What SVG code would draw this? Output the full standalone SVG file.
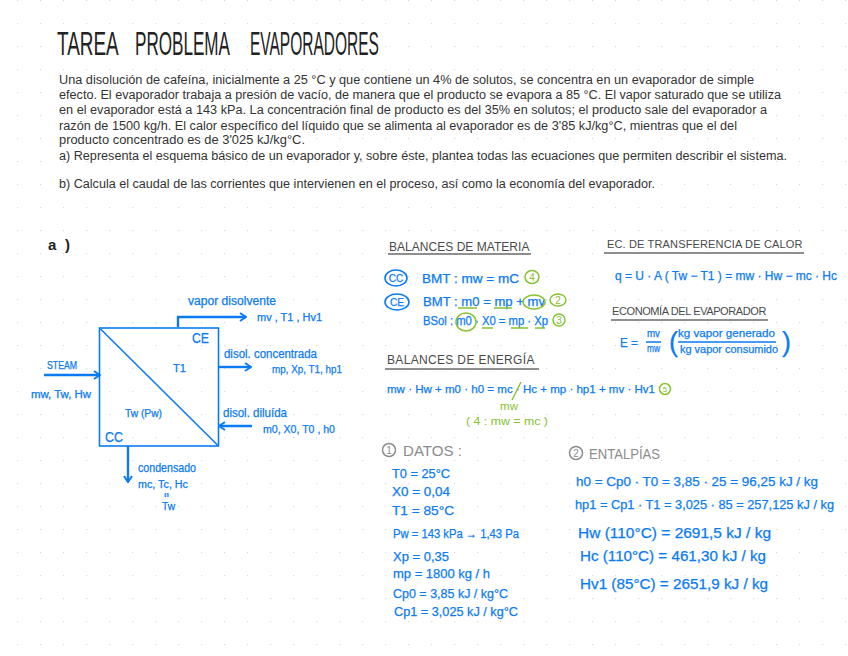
<svg xmlns="http://www.w3.org/2000/svg" width="848" height="656" viewBox="0 0 848 656">
<style>
text{font-family:"Liberation Sans",Arial,sans-serif}
.body{font-size:12px;fill:#333}
.title{font-size:34px;fill:#222}
.blue{fill:#0b7bf5;stroke:#0b7bf5;stroke-width:.25}
.f10{font-size:10px}.f11{font-size:11px}.f12{font-size:12px}.f13{font-size:13px}.f14{font-size:14px}
.head{font-size:12px;fill:#4a4a4a;letter-spacing:.6px}
.grey{font-size:15px;fill:#8c8c8c}
.green{fill:#86c232}
.gs{fill:none;stroke:#86c232;stroke-width:1.5}
.bs{fill:none;stroke:#0b7bf5;stroke-width:1.6}
.line{fill:none;stroke:#0b7bf5;stroke-width:2.4}
.ul{stroke:#6a6a6a;stroke-width:1.6}
.gu{stroke:#86c232;stroke-width:1.4}
.gc{fill:none;stroke:#8c8c8c;stroke-width:1.5}
</style>
<defs>
<pattern id="dots" x="17" y="0" width="23" height="23" patternUnits="userSpaceOnUse"><circle cx="0.6" cy="0.6" r="0.7" fill="#d9d9d9"/></pattern>
<marker id="arrow" viewBox="0 0 8 10" refX="7" refY="5" markerWidth="8" markerHeight="10" markerUnits="userSpaceOnUse" orient="auto"><path d="M1 1L7 5L1 9" fill="none" stroke="#0b7bf5" stroke-width="2"/></marker>
</defs>
<rect width="848" height="656" fill="#fff"/>
<rect width="848" height="656" fill="url(#dots)"/>

<g id="statement">
<text class="title" transform="translate(57 55) scale(.557 1)">TAREA</text>
<text class="title" transform="translate(135 55) scale(.503 1)">PROBLEMA</text>
<text class="title" transform="translate(250 55) scale(.456 1)">EVAPORADORES</text>
<text class="body" x="59" y="84" textLength="695" lengthAdjust="spacingAndGlyphs">Una disolución de cafeína, inicialmente a 25 °C y que contiene un 4% de solutos, se concentra en un evaporador de simple</text>
<text class="body" x="59" y="99" textLength="722" lengthAdjust="spacingAndGlyphs">efecto. El evaporador trabaja a presión de vacío, de manera que el producto se evapora a 85 °C. El vapor saturado que se utiliza</text>
<text class="body" x="59" y="114" textLength="708" lengthAdjust="spacingAndGlyphs">en el evaporador está a 143 kPa. La concentración final de producto es del 35% en solutos; el producto sale del evaporador a</text>
<text class="body" x="59" y="130" textLength="678" lengthAdjust="spacingAndGlyphs">razón de 1500 kg/h. El calor específico del líquido que se alimenta al evaporador es de 3'85 kJ/kg°C, mientras que el del</text>
<text class="body" x="59" y="144" textLength="246" lengthAdjust="spacingAndGlyphs">producto concentrado es de 3'025 kJ/kg°C.</text>
<text class="body" x="59" y="160" textLength="728" lengthAdjust="spacingAndGlyphs">a) Representa el esquema básico de un evaporador y, sobre éste, plantea todas las ecuaciones que permiten describir el sistema.</text>
<text class="body" x="59" y="188" textLength="596" lengthAdjust="spacingAndGlyphs">b) Calcula el caudal de las corrientes que intervienen en el proceso, así como la economía del evaporador.</text>
</g>

<g id="part-a-label"><text x="48" y="250" font-size="15" font-weight="bold" fill="#222" textLength="22">a )</text></g>

<g id="connectors">
<path class="line" d="M178 327V317H246" marker-end="url(#arrow)"/>
<path class="line" d="M219 367H251" marker-end="url(#arrow)"/>
<path class="line" d="M252 426H219" marker-end="url(#arrow)"/>
<path class="line" d="M44 375H100" marker-end="url(#arrow)"/>
<path class="line" d="M128 446V482" marker-end="url(#arrow)"/>
</g>

<g id="evaporator">
<rect class="bs" x="99.500" y="328" width="119" height="118"/>
<path class="bs" d="M99.500 328L218.500 446"/>
<text class="blue f14" x="192" y="343" textLength="17" lengthAdjust="spacingAndGlyphs">CE</text>
<text class="blue f14" x="105" y="442" textLength="18" lengthAdjust="spacingAndGlyphs">CC</text>
<text class="blue f10" x="173" y="372" textLength="13" lengthAdjust="spacingAndGlyphs">T1</text>
<text class="blue f10" x="125" y="417" textLength="37" lengthAdjust="spacingAndGlyphs">Tw (Pw)</text>
</g>

<g id="stream-vapor">
<text class="blue f12" x="188" y="305" textLength="88" lengthAdjust="spacingAndGlyphs">vapor disolvente</text>
<text class="blue f10" x="257" y="321" textLength="65" lengthAdjust="spacingAndGlyphs">mv , T1 , Hv1</text>
</g>
<g id="stream-concentrada">
<text class="blue f12" x="224" y="358" textLength="93" lengthAdjust="spacingAndGlyphs">disol. concentrada</text>
<text class="blue f10" x="272" y="373" textLength="70" lengthAdjust="spacingAndGlyphs">mp, Xp, T1, hp1</text>
</g>
<g id="stream-diluida">
<text class="blue f12" x="223" y="417" textLength="64" lengthAdjust="spacingAndGlyphs">disol. diluída</text>
<text class="blue f10" x="263" y="433" textLength="72" lengthAdjust="spacingAndGlyphs">m0, X0, T0 , h0</text>
</g>
<g id="stream-steam">
<text class="blue f10" x="47" y="369" textLength="30" lengthAdjust="spacingAndGlyphs">STEAM</text>
<text class="blue f10" x="31" y="398" textLength="60" lengthAdjust="spacingAndGlyphs">mw, Tw, Hw</text>
</g>
<g id="stream-condensado">
<text class="blue f12" x="138" y="472" textLength="58" lengthAdjust="spacingAndGlyphs">condensado</text>
<text class="blue f10" x="138" y="488" textLength="50" lengthAdjust="spacingAndGlyphs">mc, Tc, Hc</text>
<text class="blue" x="164" y="497" font-size="6" textLength="5" lengthAdjust="spacingAndGlyphs">II</text>
<text class="blue f10" x="162" y="510" textLength="13" lengthAdjust="spacingAndGlyphs">Tw</text>
</g>

<g id="balances-materia">
<text class="head" x="389" y="251" textLength="141">BALANCES DE MATERIA</text>
<path class="ul" d="M388 254H531"/>
<ellipse class="bs" cx="396" cy="278" rx="11" ry="8"/>
<text class="blue f10" x="396" y="281.500" text-anchor="middle">CC</text>
<text class="blue f12" x="422" y="283" textLength="97" lengthAdjust="spacingAndGlyphs">BMT : mw = mC</text>
<ellipse class="gs" cx="532" cy="277" rx="7" ry="6.500"/>
<text class="green f10" x="532" y="280.500" text-anchor="middle">4</text>
<ellipse class="bs" cx="397" cy="302" rx="12" ry="8"/>
<text class="blue f10" x="397" y="305.500" text-anchor="middle">CE</text>
<text class="blue f12" x="423" y="306" textLength="122" lengthAdjust="spacingAndGlyphs">BMT : m0 = mp + mv</text>
<ellipse class="gs" cx="534" cy="302" rx="11" ry="7"/>
<path class="gu" d="M458 308H477M494 308H512"/>
<ellipse class="gs" cx="558" cy="300" rx="8" ry="6"/>
<text class="green f10" x="558" y="303.500" text-anchor="middle">2</text>
<text class="blue f12" x="423" y="325" textLength="125" lengthAdjust="spacingAndGlyphs">BSol : m0 · X0 = mp · Xp</text>
<ellipse class="gs" cx="466" cy="322" rx="10" ry="9"/>
<path class="gu" d="M482 328H493M511 328H528M535 328H545"/>
<ellipse class="gs" cx="559" cy="320" rx="6" ry="6"/>
<text class="green f10" x="559" y="323.500" text-anchor="middle">3</text>
</g>

<g id="balances-energia">
<text class="head" x="387" y="364" textLength="148">BALANCES DE ENERGÍA</text>
<path class="ul" d="M385 369H539"/>
<text class="blue f11" x="387" y="393" textLength="268" lengthAdjust="spacingAndGlyphs">mw · Hw + m0 · h0 = mc · Hc + mp · hp1 + mv · Hv1</text>
<path class="gu" d="M521 382L512 400"/>
<text class="green f10" x="500" y="410" textLength="18" lengthAdjust="spacingAndGlyphs">mw</text>
<circle class="gs" cx="665" cy="389" r="5.500"/>
<text class="green" x="665" y="392" font-size="8" text-anchor="middle">5</text>
<text class="green f10" x="466" y="425" textLength="82" lengthAdjust="spacingAndGlyphs">( 4 : mw = mc )</text>
</g>

<g id="transferencia">
<text class="head" x="607" y="248" textLength="196" style="font-size:11px">EC. DE TRANSFERENCIA DE CALOR</text>
<path class="ul" d="M604 253H804"/>
<text class="blue f12" x="615" y="280" textLength="222" lengthAdjust="spacingAndGlyphs">q = U · A ( Tw − T1 ) = mw · Hw − mc · Hc</text>
</g>

<g id="economia">
<text class="head" x="612" y="315" textLength="155" style="font-size:11px">ECONOMÍA DEL EVAPORADOR</text>
<path class="ul" d="M611 320H768"/>
<text class="blue f13" x="620" y="347" textLength="18" lengthAdjust="spacingAndGlyphs">E =</text>
<text class="blue f10" x="647" y="337" textLength="13" lengthAdjust="spacingAndGlyphs">mv</text>
<path class="bs" d="M646 342H661M678 342H776"/>
<text class="blue f10" x="647" y="352" textLength="13" lengthAdjust="spacingAndGlyphs">mw</text>
<text class="blue" x="669" y="351" font-size="27">(</text>
<text class="blue f11" x="678" y="337" textLength="97" lengthAdjust="spacingAndGlyphs">kg vapor generado</text>
<text class="blue f11" x="680" y="353" textLength="98" lengthAdjust="spacingAndGlyphs">kg vapor consumido</text>
<text class="blue" x="782" y="351" font-size="27">)</text>
</g>

<g id="datos">
<circle class="gc" cx="389" cy="450" r="6.500"/>
<text x="389" y="453.500" font-size="10" fill="#8c8c8c" text-anchor="middle">1</text>
<text class="grey" x="403" y="456" textLength="59" lengthAdjust="spacingAndGlyphs">DATOS :</text>
<text class="blue f13" x="392" y="478" textLength="58" lengthAdjust="spacingAndGlyphs">T0 = 25°C</text>
<text class="blue f13" x="392" y="496" textLength="58" lengthAdjust="spacingAndGlyphs">X0 = 0,04</text>
<text class="blue f13" x="392" y="515" textLength="62" lengthAdjust="spacingAndGlyphs">T1 = 85°C</text>
<text class="blue f12" x="393" y="538" textLength="126" lengthAdjust="spacingAndGlyphs">Pw = 143 kPa → 1,43 Pa</text>
<text class="blue f13" x="393" y="561" textLength="56" lengthAdjust="spacingAndGlyphs">Xp = 0,35</text>
<text class="blue f13" x="393" y="578" textLength="97" lengthAdjust="spacingAndGlyphs">mp = 1800 kg / h</text>
<text class="blue f13" x="393" y="598" textLength="115" lengthAdjust="spacingAndGlyphs">Cp0 = 3,85 kJ / kg°C</text>
<text class="blue f13" x="394" y="616" textLength="124" lengthAdjust="spacingAndGlyphs">Cp1 = 3,025 kJ / kg°C</text>
</g>

<g id="entalpias">
<circle class="gc" cx="576" cy="453" r="6.500"/>
<text x="576" y="456.500" font-size="10" fill="#8c8c8c" text-anchor="middle">2</text>
<text class="grey" x="589" y="459" textLength="71" lengthAdjust="spacingAndGlyphs">ENTALPÍAS</text>
<text class="blue f13" x="576" y="486" textLength="242" lengthAdjust="spacingAndGlyphs">h0 = Cp0 · T0 = 3,85 · 25 = 96,25 kJ / kg</text>
<text class="blue f13" x="575" y="509" textLength="259" lengthAdjust="spacingAndGlyphs">hp1 = Cp1 · T1 = 3,025 · 85 = 257,125 kJ / kg</text>
<text class="blue f14" x="578" y="538" textLength="193" lengthAdjust="spacingAndGlyphs">Hw (110°C) = 2691,5 kJ / kg</text>
<text class="blue f14" x="580" y="561" textLength="186" lengthAdjust="spacingAndGlyphs">Hc (110°C) = 461,30 kJ / kg</text>
<text class="blue f14" x="580" y="589" textLength="188" lengthAdjust="spacingAndGlyphs">Hv1 (85°C) = 2651,9 kJ / kg</text>
</g>
</svg>
